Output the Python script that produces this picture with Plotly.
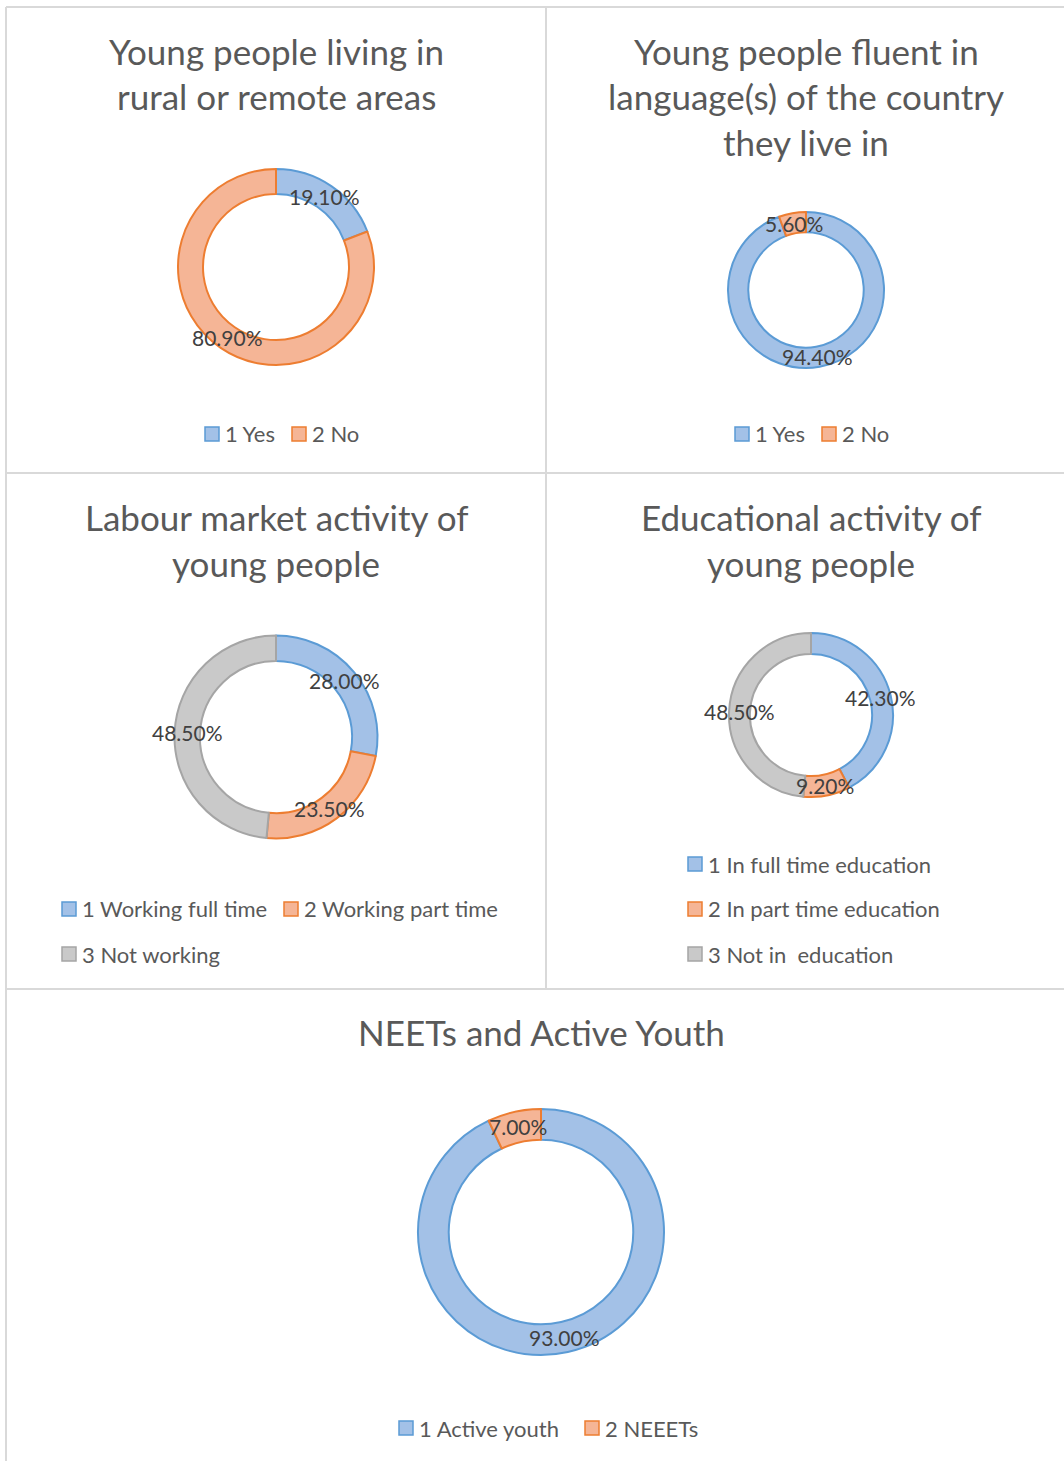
import math
import plotly.graph_objects as go

W, H = 1064, 1461

# ---------------- data ----------------
titles = [
    ["Young people living in", "rural or remote areas"],
    ["Young people fluent in", "language(s) of the country", "they live in"],
    ["Labour market activity of", "young people"],
    ["Educational activity of", "young people"],
    ["NEETs and Active Youth"],
]
labels_rural = ["1 Yes", "2 No"]
values_rural = [19.10, 80.90]
labels_lang = ["1 Yes", "2 No"]
values_lang = [94.40, 5.60]
labels_labour = ["1 Working full time", "2 Working part time", "3 Not working"]
values_labour = [28.00, 23.50, 48.50]
labels_edu = ["1 In full time education", "2 In part time education", "3 Not in  education"]
values_edu = [42.30, 9.20, 48.50]
labels_neet = ["1 Active youth", "2 NEEETs"]
values_neet = [93.00, 7.00]

FILL = ["#A3C1E7", "#F5B596", "#C9C9C9"]
LINE = ["#5B9BD5", "#ED7D31", "#A5A5A5"]

FONT = "Lato"
TITLE_C = "#595959"
LABEL_C = "#404040"


def px(x):
    return x / W


def py(y):
    return 1 - y / H


# layout geometry (pixels): centre, outer radius, hole fraction, title & legend placement
charts = [
    dict(labels=labels_rural, values=values_rural, cx=276, cy=267, r=98, hole=0.745,
         title_x=276, title_y=[51, 96],
         legend_pos=[(205, 434), (292, 434)]),
    dict(labels=labels_lang, values=values_lang, cx=806, cy=290, r=78, hole=0.74,
         title_x=806, title_y=[51, 96, 142],
         legend_pos=[(735, 434), (822, 434)]),
    dict(labels=labels_labour, values=values_labour, cx=276, cy=737, r=101.5, hole=0.75,
         title_x=276, title_y=[517, 563],
         legend_pos=[(62, 909), (284, 909), (62, 954)]),
    dict(labels=labels_edu, values=values_edu, cx=811, cy=715, r=82, hole=0.745,
         title_x=811, title_y=[517, 563],
         legend_pos=[(688, 864), (688, 909), (688, 954)]),
    dict(labels=labels_neet, values=values_neet, cx=541, cy=1232, r=123, hole=0.75,
         title_x=541, title_y=[1032],
         legend_pos=[(399, 1428), (585, 1428)]),
]

fig = go.Figure()
annotations = []
shapes = []
SQ = 14

for i, c in enumerate(charts):
    n = len(c["labels"])
    fig.add_trace(go.Pie(
        labels=c["labels"], values=c["values"],
        hole=c["hole"], sort=False, direction="clockwise", rotation=0,
        textinfo="none", hoverinfo="label+percent",
        marker=dict(colors=FILL[:n], line=dict(color=LINE[:n], width=2)),
        domain=dict(x=[px(c["cx"] - c["r"]), px(c["cx"] + c["r"])],
                    y=[py(c["cy"] + c["r"]), py(c["cy"] - c["r"])]),
        showlegend=False,
    ))
    # title lines
    for line, ty in zip(titles[i], c["title_y"]):
        annotations.append(dict(
            text=line, x=px(c["title_x"]), y=py(ty), xref="paper", yref="paper",
            xanchor="center", yanchor="middle", showarrow=False,
            font=dict(family=FONT, size=35, color=TITLE_C)))
    # data labels at ring mid-line, mid-angle of each slice
    total = sum(c["values"])
    rmid = c["r"] * (1 + c["hole"]) / 2
    cum = 0.0
    for v in c["values"]:
        ang = 2 * math.pi * (cum + v / 2) / total
        cum += v
        lx = c["cx"] + rmid * math.sin(ang)
        ly = c["cy"] - rmid * math.cos(ang)
        annotations.append(dict(
            text=f"{v:.2f}%", x=px(lx), y=py(ly), xref="paper", yref="paper",
            xanchor="center", yanchor="middle", showarrow=False,
            font=dict(family=FONT, size=21, color=LABEL_C)))
    # legend (key square + label text)
    for k, (lab, (lx, ly)) in enumerate(zip(c["labels"], c["legend_pos"])):
        shapes.append(dict(type="rect", xref="paper", yref="paper",
                           x0=px(lx), x1=px(lx + SQ), y0=py(ly + SQ / 2), y1=py(ly - SQ / 2),
                           fillcolor=FILL[k], line=dict(color=LINE[k], width=1.5)))
        annotations.append(dict(
            text=lab, x=px(lx + SQ + 4), y=py(ly), xref="paper", yref="paper",
            xanchor="left", yanchor="middle", showarrow=False,
            font=dict(family=FONT, size=22, color=TITLE_C)))

BC = "#D9D9D9"
for (x0, y0, x1, y1) in [(6, 7, 1064, 7), (6, 7, 6, 1461), (546, 7, 546, 989),
                         (6, 473, 1064, 473), (6, 989, 1064, 989)]:
    shapes.append(dict(type="line", xref="paper", yref="paper",
                       x0=px(x0), y0=py(y0), x1=px(x1), y1=py(y1),
                       line=dict(color=BC, width=2)))

fig.update_layout(
    width=W, height=H,
    margin=dict(l=0, r=0, t=0, b=0, autoexpand=False),
    paper_bgcolor="white", plot_bgcolor="white",
    annotations=annotations, shapes=shapes,
    showlegend=False,
)

fig.write_html("out.html", config={"displayModeBar": False},
               post_script="document.body.style.margin='0';")
